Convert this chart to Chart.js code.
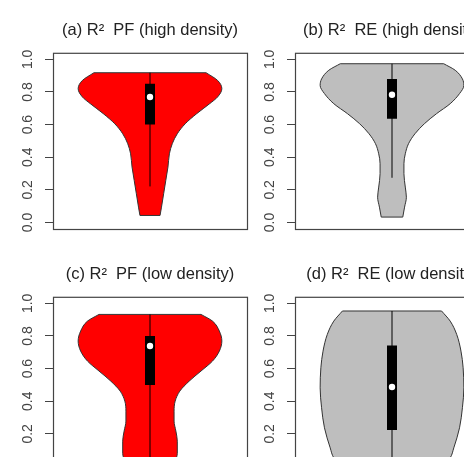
<!DOCTYPE html>
<html>
<head>
<meta charset="utf-8">
<script src="https://cdn.jsdelivr.net/npm/chart.js@4.4.0/dist/chart.umd.min.js"></script>
<style>
  html, body { margin: 0; padding: 0; background: #fff; overflow: hidden; width: 464px; height: 457px; }
  canvas { position: absolute; }
</style>
</head>
<body>
<canvas id="panelA" width="300" height="260" style="left:0;top:0"></canvas>
<canvas id="panelB" width="300" height="260" style="left:242px;top:0"></canvas>
<canvas id="panelC" width="300" height="260" style="left:0;top:244px"></canvas>
<canvas id="panelD" width="300" height="260" style="left:242px;top:244px"></canvas>
<script>
const titles = ['(a) R\u00B2  PF (high density)', '(b) R\u00B2  RE (high density)',
                '(c) R\u00B2  PF (low density)', '(d) R\u00B2  RE (low density)'];
const yTicks = [0, 0.2, 0.4, 0.6, 0.8, 1.0];

// violin outlines: R2 level and relative density (1 = widest part)
const levelsA = [0.043, 0.094, 0.176, 0.258, 0.34, 0.421, 0.483, 0.544, 0.605, 0.667, 0.728, 0.769, 0.82, 0.871, 0.918];
const densityA = [0.14, 0.16, 0.19, 0.22, 0.25, 0.27, 0.31, 0.38, 0.49, 0.65, 0.83, 0.94, 1.0, 0.94, 0.78];
const levelsB = [0.033, 0.094, 0.155, 0.217, 0.299, 0.36, 0.421, 0.483, 0.544, 0.605, 0.667, 0.728, 0.79, 0.84, 0.88, 0.933, 0.973];
const densityB = [0.15, 0.175, 0.20, 0.185, 0.166, 0.166, 0.185, 0.23, 0.32, 0.45, 0.62, 0.81, 0.94, 1.0, 0.98, 0.88, 0.72];
const levelsC = [0.02, 0.08, 0.155, 0.217, 0.278, 0.339, 0.40, 0.462, 0.523, 0.585, 0.646, 0.707, 0.769, 0.83, 0.891, 0.932];
const densityC = [0.34, 0.38, 0.38, 0.36, 0.335, 0.335, 0.35, 0.415, 0.545, 0.71, 0.87, 0.965, 1.0, 0.965, 0.87, 0.71];
const levelsD = [0.02, 0.053, 0.114, 0.237, 0.36, 0.482, 0.605, 0.707, 0.81, 0.891, 0.953];
const densityD = [0.74, 0.81, 0.86, 0.94, 0.98, 1.0, 0.99, 0.96, 0.9, 0.81, 0.69];

// [whisker low, q1, median, q3, whisker high]
const statsA = [0.221, 0.601, 0.769, 0.851, 0.918];
const statsB = [0.274, 0.636, 0.783, 0.88, 0.973];
const statsC = [0.02, 0.499, 0.738, 0.80, 0.932];
const statsD = [0.02, 0.223, 0.487, 0.742, 0.953];

const halfWidth = 0.4;
const outline = '#333';
const font = "'Liberation Sans', Arial, sans-serif";

const boxPlugin = {
  id: 'plotBox',
  afterDraw(chart) {
    const {ctx, chartArea} = chart;
    ctx.save();
    ctx.strokeStyle = '#444';
    ctx.lineWidth = 1.2;
    ctx.strokeRect(chartArea.left + 0.5, chartArea.top + 0.5,
      chartArea.right - chartArea.left, chartArea.bottom - chartArea.top);
    ctx.restore();
  }
};

function drawViolin(canvasId, title, levels, density, stats, fillColor) {
  const right = levels.map((y, i) => ({x: 1 + density[i] * halfWidth, y: y}));
  const left = levels.map((y, i) => ({x: 1 - density[i] * halfWidth, y: y}));
  const last = levels.length - 1;
  const edge = {borderColor: outline, borderWidth: 1, pointRadius: 0, fill: false};

  new Chart(document.getElementById(canvasId), {
    type: 'line',
    data: {
      datasets: [
        {data: [{x: 1, y: stats[2]}], showLine: false, pointRadius: 3.2,
         pointBackgroundColor: '#fff', pointBorderWidth: 0, order: 0},
        {data: [{x: 1, y: stats[1]}, {x: 1, y: stats[3]}], borderColor: '#000',
         borderWidth: 10, pointRadius: 0, order: 1},
        {data: [{x: 1, y: stats[0]}, {x: 1, y: stats[4]}], borderColor: '#000',
         borderWidth: 1, pointRadius: 0, order: 2},
        {...edge, data: right, cubicInterpolationMode: 'monotone', order: 4},
        {...edge, data: left, cubicInterpolationMode: 'monotone', fill: '-1',
         backgroundColor: fillColor, order: 5},
        {...edge, data: [left[0], right[0]], order: 4},
        {...edge, data: [left[last], right[last]], order: 4}
      ]
    },
    options: {
      responsive: false,
      animation: false,
      indexAxis: 'y',
      layout: {padding: {left: 0, right: 0, top: 0, bottom: 31}},
      plugins: {
        legend: {display: false},
        tooltip: {enabled: false},
        title: {
          display: true,
          text: title,
          color: '#222',
          font: {family: font, size: 16.5, weight: 'normal'},
          padding: {top: 21, bottom: 12}
        }
      },
      scales: {
        x: {type: 'linear', min: 0.46, max: 1.54, display: false},
        y: {
          type: 'linear',
          min: -0.04,
          max: 1.04,
          afterBuildTicks: scale => { scale.ticks = yTicks.map(v => ({value: v})); },
          afterFit: scale => { scale.width = 53; },
          border: {display: false},
          grid: {drawOnChartArea: false, drawTicks: true, tickLength: 8, tickColor: '#444'},
          ticks: {
            minRotation: 90,
            maxRotation: 90,
            crossAlign: 'center',
            padding: 7,
            color: '#444',
            font: {family: font, size: 14},
            callback: value => value.toFixed(1)
          }
        },
        // empty right margin so the title centres over the plot box
        margin: {
          type: 'linear',
          position: 'right',
          min: 0,
          max: 1,
          afterFit: scale => { scale.width = 53; },
          border: {display: false},
          grid: {display: false},
          ticks: {display: false}
        }
      }
    },
    plugins: [boxPlugin]
  });
}

drawViolin('panelA', titles[0], levelsA, densityA, statsA, '#ff0000');
drawViolin('panelB', titles[1], levelsB, densityB, statsB, '#bebebe');
drawViolin('panelC', titles[2], levelsC, densityC, statsC, '#ff0000');
drawViolin('panelD', titles[3], levelsD, densityD, statsD, '#bebebe');
</script>
</body>
</html>
